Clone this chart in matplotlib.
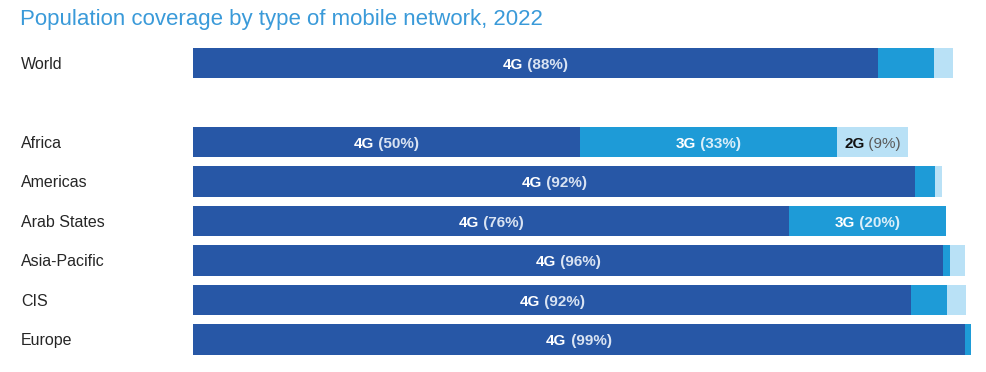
import matplotlib.pyplot as plt
import matplotlib.transforms as mtransforms

plt.rcParams['font.family'] = ['Liberation Sans', 'DejaVu Sans']

regions = ['World', 'Africa', 'Americas', 'Arab States', 'Asia-Pacific', 'CIS', 'Europe']
positions = [0, 2, 3, 4, 5, 6, 7]  # gap after World

# bar lengths (% of population)
cov_4g = [88.5, 50.0, 93.3, 77.0, 96.9, 92.8, 99.7]
cov_3g = [7.2, 33.2, 2.6, 20.3, 0.95, 4.65, 0.8]
cov_2g = [2.5, 9.2, 0.9, 0.0, 1.9, 2.4, 0.0]

# labels printed in the bars
lab_4g = ['88%', '50%', '92%', '76%', '96%', '92%', '99%']
lab_3g = ['', '33%', '', '20%', '', '', '']
lab_2g = ['', '9%', '', '', '', '', '']

c4, c3, c2 = '#2757a6', '#1e9bd7', '#b9e1f6'

W, H = 987, 372
fig = plt.figure(figsize=(W / 100, H / 100), dpi=100)
# axes geometry in pixels
x0, px_per_pct = 193, 7.74
xmax = 102
top_c, step = 63, 39.5
ax = fig.add_axes([x0 / W, (H - (top_c + 7.5 * step)) / H,
                   xmax * px_per_pct / W, 8 * step / H])
ax.set_xlim(0, xmax)
ax.set_ylim(7.5, -0.5)
ax.axis('off')

left2 = [a + b for a, b in zip(cov_4g, cov_3g)]
ax.barh(positions, cov_4g, height=0.76, color=c4)
ax.barh(positions, cov_3g, left=cov_4g, height=0.76, color=c3)
ax.barh(positions, cov_2g, left=left2, height=0.76, color=c2)

fig.text(20 / W, 1 - 20 / H, 'Population coverage by type of mobile network, 2022',
         fontsize=16, color='#3a9ad9', va='center', ha='left')

# baseline offset (data units) so capitals sit centred in the bar
base_off = 0.14

tr = mtransforms.blended_transform_factory(fig.transFigure, ax.transData)
for name, p in zip(regions, positions):
    ax.text(21 / W, p + base_off, name, transform=tr, fontsize=11.5, color='#262626',
            va='baseline', ha='left')

fig.canvas.draw()
renderer = fig.canvas.get_renderer()


def seg_label(xc, y, key, pct, kcol, pcol, pweight):
    t1 = ax.text(xc, y + base_off, key, fontsize=11, fontweight='bold', color=kcol,
                 va='baseline', ha='left')
    t2 = ax.text(xc, y + base_off, ' (' + pct + ')', fontsize=11, fontweight=pweight,
                 color=pcol, va='baseline', ha='left')
    w1 = t1.get_window_extent(renderer).width / px_per_pct
    w2 = t2.get_window_extent(renderer).width / px_per_pct
    start = xc - (w1 + w2) / 2
    t1.set_x(start)
    t2.set_x(start + w1)


for i, p in enumerate(positions):
    if lab_4g[i]:
        seg_label(cov_4g[i] / 2, p, '4G', lab_4g[i], 'white', '#d9e3f2', 'bold')
    if lab_3g[i]:
        seg_label(cov_4g[i] + cov_3g[i] / 2, p, '3G', lab_3g[i], 'white', '#d9eef9', 'bold')
    if lab_2g[i]:
        seg_label(left2[i] + cov_2g[i] / 2, p, '2G', lab_2g[i], '#111111', '#5a5a5a', 'normal')

fig.savefig('out.png', dpi=100)
